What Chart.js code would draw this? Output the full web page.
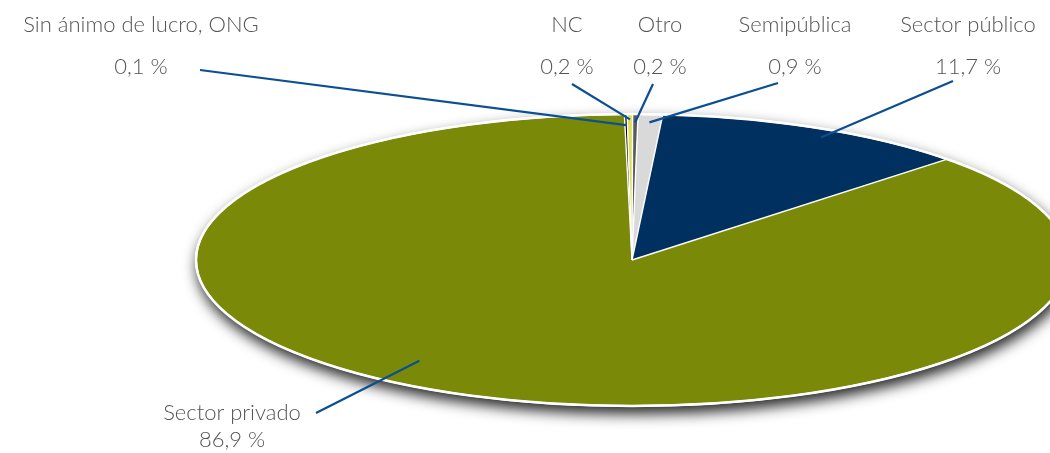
<!DOCTYPE html>
<html>
<head>
<meta charset="utf-8">
<script src="https://cdn.jsdelivr.net/npm/chart.js@4"></script>
<style>
  body { margin: 0; background: #fff; }
  #wrap { width: 1050px; height: 453px; position: relative; }
</style>
</head>
<body>
<div id="wrap"><canvas id="pie"></canvas></div>
<script>
const categories = ['Sin ánimo de lucro, ONG', 'NC', 'Otro', 'Semipública', 'Sector público', 'Sector privado'];
const shares = [0.1, 0.2, 0.2, 0.9, 11.7, 86.9];
const colors = ['#000000', '#dede5c', '#5a5a5a', '#d9d9d9', '#00305f', '#7a8a08'];

// label placement: text centre, where the leader line starts, and where in the slice it ends
const labelLayout = [
    { x: 141, y: 25, below: 67, from: [200, 70], along: 0.5, r: 0.93 },
    { x: 567, y: 25, below: 67, from: [572, 84], along: 0.5, r: 0.97 },
    { x: 660, y: 25, below: 67, from: [653, 84], along: 0.5, r: 0.95 },
    { x: 795, y: 25, below: 67, from: [778, 83], along: 0.5, r: 0.95 },
    { x: 968, y: 25, below: 67, from: [953, 81], along: 0.55, r: 0.95 },
    { x: 232, y: 413, below: 440, from: [316, 413], along: 0.54, r: 0.85 }
];

// tilted pie: ellipse geometry on the page
const cx = 632, cy = 260, rx = 435, ry = 145;

const fmt = v => v.toFixed(1).replace('.', ',') + ' %';

const tiltPlugin = {
    id: 'tilt',
    beforeDatasetsDraw(chart) {
        const ctx = chart.ctx;
        const arc = chart.getDatasetMeta(0).data[0];
        // drop shadow under the disc
        ctx.save();
        ctx.shadowColor = 'rgba(0,0,0,0.85)';
        ctx.shadowBlur = 14;
        ctx.shadowOffsetX = 2;
        ctx.shadowOffsetY = 7;
        ctx.fillStyle = '#fff';
        ctx.beginPath();
        ctx.ellipse(cx, cy, rx + 2, ry + 2, 0, 0, Math.PI * 2);
        ctx.fill();
        ctx.restore();
        ctx.save();
        ctx.translate(cx, cy);
        ctx.scale(rx / arc.outerRadius, ry / arc.outerRadius);
        ctx.translate(-arc.x, -arc.y);
    },
    afterDatasetsDraw(chart) {
        const ctx = chart.ctx;
        ctx.restore();
        const meta = chart.getDatasetMeta(0);
        ctx.save();
        ctx.strokeStyle = '#fff';
        ctx.lineWidth = 1.4;
        meta.data.forEach(a => {
            ctx.beginPath();
            ctx.moveTo(cx, cy);
            ctx.lineTo(cx + rx * Math.cos(a.startAngle), cy + ry * Math.sin(a.startAngle));
            ctx.stroke();
        });
        ctx.lineWidth = 2.5;
        ctx.beginPath();
        ctx.ellipse(cx, cy, rx + 1, ry + 1, 0, 0, Math.PI * 2);
        ctx.stroke();
        ctx.restore();
    },
    afterDraw(chart) {
        const ctx = chart.ctx;
        const meta = chart.getDatasetMeta(0);
        ctx.save();
        meta.data.forEach((a, i) => {
            const L = labelLayout[i];
            const ang = a.startAngle + (a.endAngle - a.startAngle) * L.along;
            const tx = cx + rx * L.r * Math.cos(ang);
            const ty = cy + ry * L.r * Math.sin(ang);
            ctx.strokeStyle = '#0b4f93';
            ctx.lineWidth = 2.2;
            ctx.beginPath();
            ctx.moveTo(L.from[0], L.from[1]);
            ctx.lineTo(tx, ty);
            ctx.stroke();

            ctx.fillStyle = '#555555';
            ctx.font = '300 22px Lato, "Open Sans", sans-serif';
            ctx.textAlign = 'center';
            ctx.textBaseline = 'middle';
            ctx.fillText(categories[i], L.x, L.y);
            ctx.fillText(fmt(shares[i]), L.x, L.below);
        });
        ctx.restore();
    }
};

new Chart(document.getElementById('pie'), {
    type: 'pie',
    data: {
        labels: categories,
        datasets: [{
            data: shares,
            backgroundColor: colors,
            borderWidth: 0,
            clip: false
        }]
    },
    options: {
        responsive: true,
        maintainAspectRatio: false,
        animation: false,
        rotation: -1,
        layout: { padding: 10 },
        plugins: {
            legend: { display: false },
            tooltip: { enabled: false }
        }
    },
    plugins: [tiltPlugin]
});
</script>
</body>
</html>
